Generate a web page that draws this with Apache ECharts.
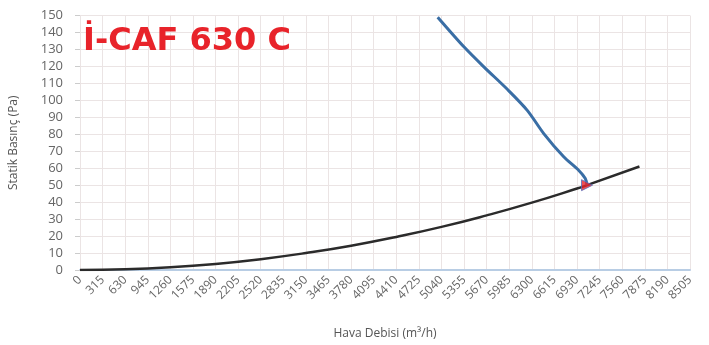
<!DOCTYPE html>
<html><head><meta charset="utf-8">
<script src="https://cdn.jsdelivr.net/npm/echarts@6/dist/echarts.min.js"></script>
<style>html,body{margin:0;padding:0;background:#fff}#c{width:709px;height:345px}</style>
</head><body><div id="c"></div>
<script>
const titleText = "İ-CAF 630 C";
const xTicks = [0,315,630,945,1260,1575,1890,2205,2520,2835,3150,3465,3780,4095,4410,4725,5040,5355,5670,5985,6300,6615,6930,7245,7560,7875,8190,8505];
const fanX = [4987,5356,5634,5958,6236,6466,6744,6952,7045,7069];
const fanY = [149,131.4,119.6,106.5,94.1,80.4,66.7,58.8,53.9,50];
const sysX = [0,630,1260,1890,2520,3150,3780,4410,5040,5670,6300,6930,7069,7800];
const sysY = [0,0.4,1.6,3.6,6.4,10,14.3,19.5,25.4,32.2,39.7,48,50,61];
const opX = [7069];
const opY = [50];

const chart = echarts.init(document.getElementById('c'));
chart.setOption({
  animation:false,
  grid:{left:77,right:19,top:15.5,bottom:75},
  title:{text:titleText,left:78,top:21,textStyle:{color:'#e8232a',fontSize:32,fontWeight:'bold',fontFamily:'DejaVu Sans'}},
  xAxis:{type:'value',min:xTicks[0],max:xTicks[xTicks.length-1],interval:315,
    name:'Hava Debisi (m³/h)',nameLocation:'middle',nameGap:58,
    nameTextStyle:{color:'#555',fontSize:12,fontFamily:'Open Sans'},
    axisLine:{lineStyle:{color:'#b8cde4',width:2}},axisTick:{show:false},
    axisLabel:{rotate:45,color:'#666',fontSize:12,fontFamily:'Open Sans',margin:8,formatter:v=>String(v)},
    splitLine:{show:true,lineStyle:{color:'#ebe4e4'}}},
  yAxis:{type:'value',min:0,max:150,interval:10,
    name:'Statik Basınç (Pa)',nameLocation:'middle',nameGap:60,
    nameTextStyle:{color:'#555',fontSize:12,fontFamily:'Open Sans'},
    axisLine:{show:false},axisTick:{show:true,length:5,lineStyle:{color:'#ccc'}},
    axisLabel:{color:'#666',fontSize:13,fontFamily:'Open Sans',margin:17},
    splitLine:{show:true,lineStyle:{color:'#ebe4e4'}}},
  series:[
    {type:'line',data:sysX.map((x,i)=>[x,sysY[i]]),smooth:true,symbol:'none',
     lineStyle:{color:'#2b2b2b',width:2.5},z:2},
    {type:'line',data:fanX.map((x,i)=>[x,fanY[i]]),smooth:0.3,symbol:'none',
     lineStyle:{color:'#3a6ea5',width:3},z:3},
    {type:'scatter',data:opX.map((x,i)=>[x,opY[i]]),symbol:'triangle',symbolRotate:-90,symbolSize:11,
     itemStyle:{color:'#e8232a',borderColor:'#5570c0',borderWidth:1},z:4}
  ]
});
</script></body></html>
